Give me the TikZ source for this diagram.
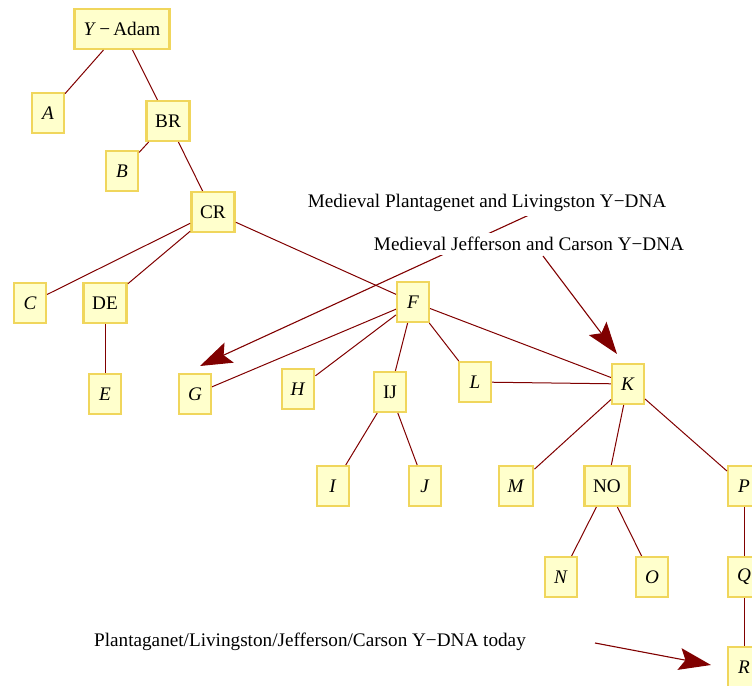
\documentclass[tikz,border=0pt]{standalone}
\usepackage{fontspec}
\setmainfont{Liberation Serif}
\usetikzlibrary{arrows.meta}
\definecolor{vfill}{RGB}{255,255,204}
\definecolor{vline}{RGB}{240,214,92}
\definecolor{edgered}{RGB}{128,0,0}

\begin{document}
\begin{tikzpicture}[x=0.5pt,y=-0.5pt,
    vertex/.style = {draw=vline, fill=vfill, line width=1.25pt,
        minimum width=15.8pt, minimum height=19.8pt, inner xsep=4.4pt,
        font=\fontsize{9.6pt}{11pt}\selectfont},
    edge/.style = {draw=edgered, line width=0.5pt},
    note/.style = {fill=white, inner sep=2pt, font=\fontsize{9.6pt}{11pt}\selectfont},
    pointer/.style = {draw=edgered, line width=0.55pt,
        -{Stealth[length=16pt,width=11pt,inset=3pt]}}]
\useasboundingbox (0,0) rectangle (752,686);

\node[vertex, minimum width=47.5pt] (Y) at (122,29) {\textit{Y}\,−\,Adam};
\node[vertex] (A)  at (48,113)  {\textit{A}};
\node[vertex] (BR) at (168,121) {BR};
\node[vertex] (B)  at (122,171) {\textit{B}};
\node[vertex] (CR) at (213,212) {CR};
\node[vertex] (C)  at (30,303)  {\textit{C}};
\node[vertex] (DE) at (105,303) {DE};
\node[vertex] (E)  at (105,394) {\textit{E}};
\node[vertex] (F)  at (413,302) {\textit{F}};
\node[vertex] (G)  at (195,394) {\textit{G}};
\node[vertex] (H)  at (298,389) {\textit{H}};
\node[vertex] (IJ) at (390,392) {IJ};
\node[vertex] (L)  at (475,382) {\textit{L}};
\node[vertex] (K)  at (628,384) {\textit{K}};
\node[vertex] (I)  at (333,486) {\textit{I}};
\node[vertex] (J)  at (425,486) {\textit{J}};
\node[vertex] (M)  at (516,486) {\textit{M}};
\node[vertex] (NO) at (607,486) {NO};
\node[vertex] (P)  at (744,486) {\textit{P}};
\node[vertex] (N)  at (561,577) {\textit{N}};
\node[vertex] (O)  at (652,577) {\textit{O}};
\node[vertex] (Q)  at (744,577) {\textit{Q}};
\node[vertex] (R)  at (744,667) {\textit{R}};

\draw[edge] (Y) -- (A);
\draw[edge] (Y) -- (BR);
\draw[edge] (BR) -- (B);
\draw[edge] (BR) -- (CR);
\draw[edge] (CR) -- (C);
\draw[edge] (CR) -- (DE);
\draw[edge] (CR) -- (F);
\draw[edge] (DE) -- (E);
\draw[edge] (F) -- (G);
\draw[edge] (F) -- (H);
\draw[edge] (F) -- (IJ);
\draw[edge] (F) -- (L);
\draw[edge] (F) -- (K);
\draw[edge] (L) -- (K);
\draw[edge] (IJ) -- (I);
\draw[edge] (IJ) -- (J);
\draw[edge] (K) -- (M);
\draw[edge] (K) -- (NO);
\draw[edge] (K) -- (P);
\draw[edge] (NO) -- (N);
\draw[edge] (NO) -- (O);
\draw[edge] (P) -- (Q);
\draw[edge] (Q) -- (R);

% pointers from the notes
\coordinate (plantfrom) at (529,215);
\coordinate (plantto)   at (200,366);
\coordinate (jefffrom)  at (543,256);
\coordinate (jeffto)    at (617,354);
\coordinate (todayfrom) at (595,643);
\coordinate (todayto)   at (711,665);
\draw[pointer] (plantfrom) -- (plantto);
\draw[pointer] (jefffrom) -- (jeffto);
\draw[pointer] (todayfrom) -- (todayto);

\node[note] (plant) at (487,203) {Medieval Plantagenet and Livingston Y−DNA};
\node[note] (jeff)  at (529,244) {Medieval Jefferson and Carson Y−DNA};
\node[note] (today) at (310,642) {Plantaganet/Livingston/Jefferson/Carson Y−DNA today};
\end{tikzpicture}
\end{document}
